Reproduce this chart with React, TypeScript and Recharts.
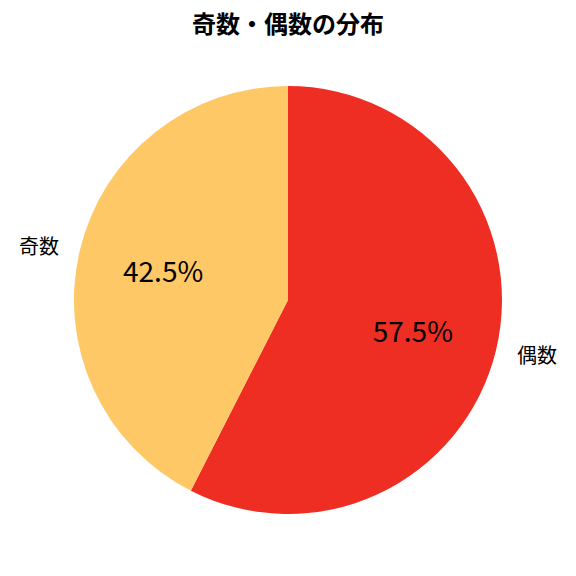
import React from "react";
import { PieChart, Pie, Cell } from "recharts";

const categories = ["偶数", "奇数"];
const values = [57.5, 42.5];
const colors = ["#EE2E22", "#FDC865"];
const title = "奇数・偶数の分布";

const data = categories.map((name, i) => ({ name, value: values[i] }));

const RADIAN = Math.PI / 180;
const FONT = "'Noto Sans CJK JP', 'Noto Sans', sans-serif";

const renderLabel = (props: any) => {
  const { cx, cy, midAngle, outerRadius, percent, name } = props;
  const cos = Math.cos(-midAngle * RADIAN);
  const sin = Math.sin(-midAngle * RADIAN);
  const r1 = outerRadius * 1.1;
  const r2 = outerRadius * 0.6;
  const lx = cx + r1 * cos;
  const ly = cy + r1 * sin;
  const px = cx + r2 * cos;
  const py = cy + r2 * sin;
  return (
    <g>
      <text
        x={lx}
        y={ly}
        textAnchor={cos >= 0 ? "start" : "end"}
        dominantBaseline="central"
        fill="#000"
        fontSize={20}
        fontFamily={FONT}
      >
        {name}
      </text>
      <text
        x={px}
        y={py}
        textAnchor="middle"
        dominantBaseline="central"
        fill="#000"
        fontSize={28}
        fontFamily={FONT}
      >
        {`${(percent * 100).toFixed(1)}%`}
      </text>
    </g>
  );
};

export default function App() {
  return (
    <div style={{ position: "absolute", left: 0, top: 0, width: 576, height: 576, background: "#fff" }}>
      <div
        style={{
          position: "absolute",
          left: 0,
          top: 8,
          width: 576,
          textAlign: "center",
          fontFamily: FONT,
          fontWeight: "bold",
          fontSize: 24,
          lineHeight: "30px",
          color: "#000",
        }}
      >
        {title}
      </div>
      <PieChart width={576} height={576} style={{ position: "absolute", left: 0, top: 0 }}>
        <Pie
          data={data}
          dataKey="value"
          nameKey="name"
          cx={283}
          cy={295}
          outerRadius={214}
          startAngle={90}
          endAngle={-270}
          stroke="none"
          labelLine={false}
          label={renderLabel}
          isAnimationActive={false}
        >
          {data.map((d, i) => (
            <Cell key={d.name} fill={colors[i]} />
          ))}
        </Pie>
      </PieChart>
    </div>
  );
}
